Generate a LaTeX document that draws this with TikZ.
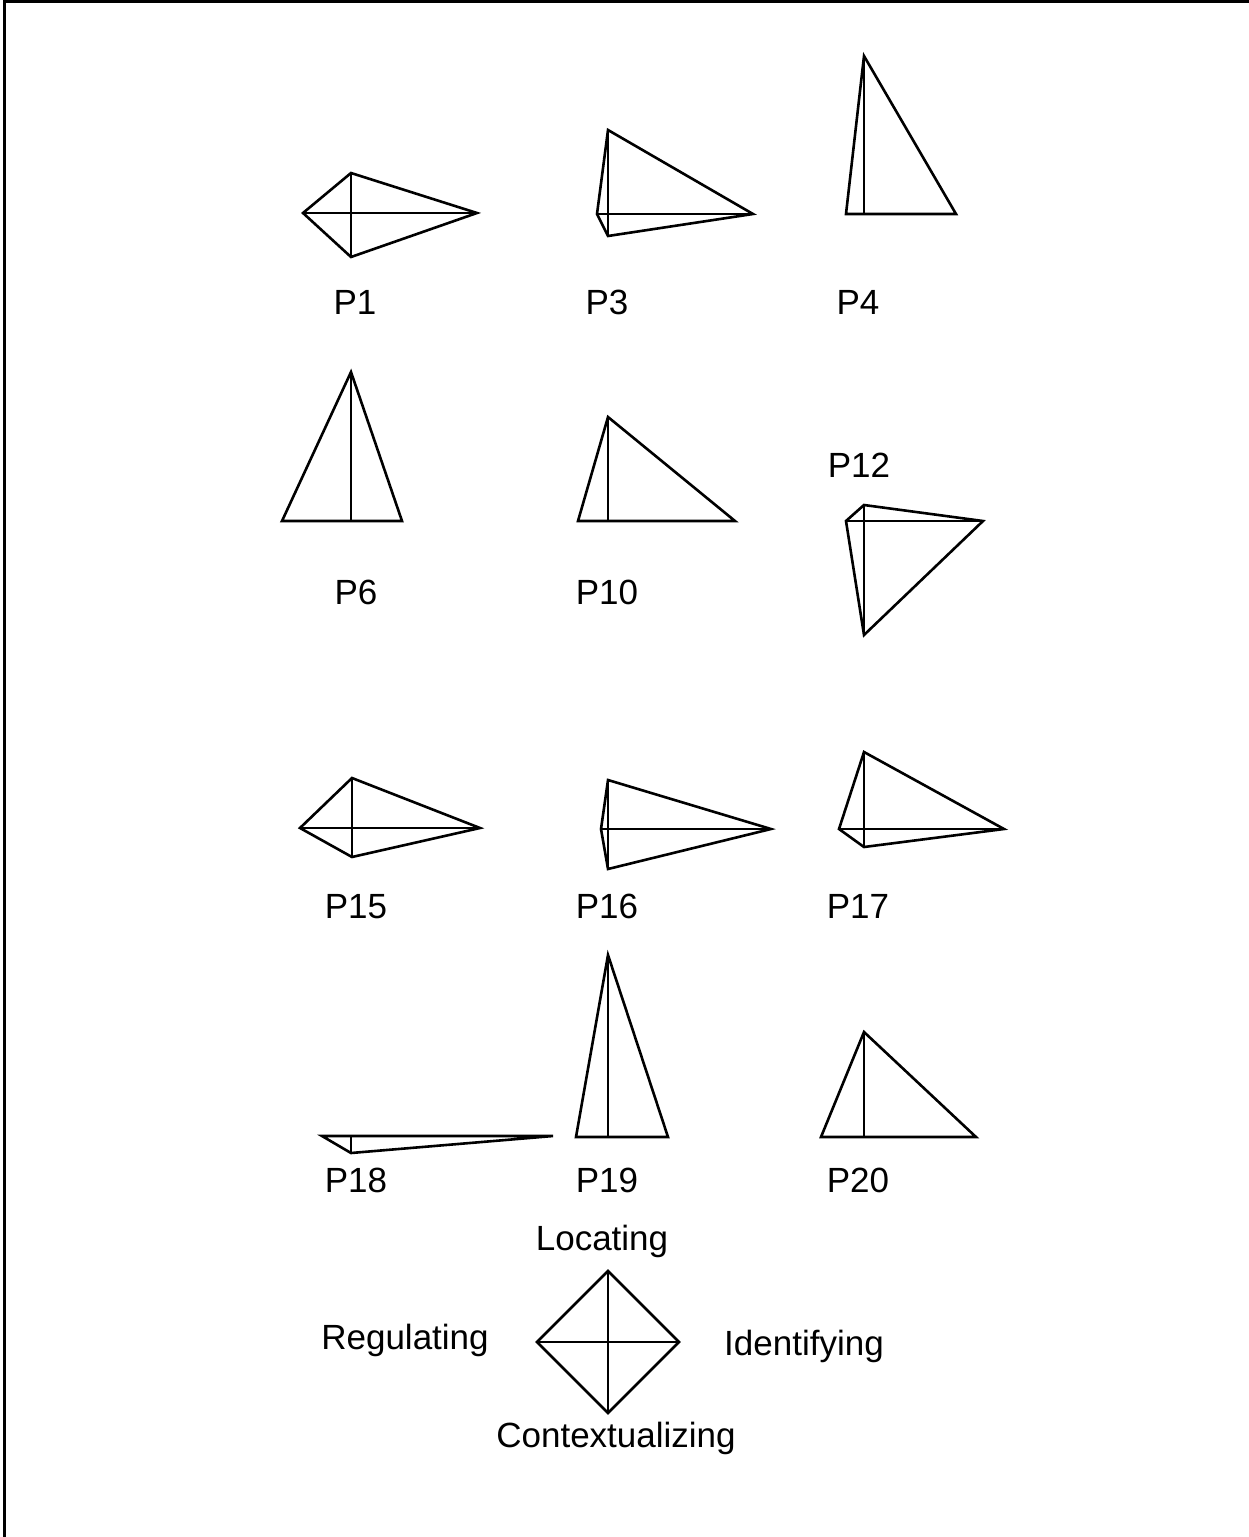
\documentclass[tikz,border=0pt]{standalone}
\usepackage{fontspec}
\setmainfont{Liberation Sans}
\begin{document}
\begin{tikzpicture}[x=1pt,y=-1pt,
  outline/.style={line width=2.6pt,line join=miter},
  axis/.style={line width=2.6pt},
  legendaxis/.style={line width=1.2pt},
  lbl/.style={font=\fontsize{35}{42}\selectfont,anchor=base,inner sep=0pt}]
\useasboundingbox (0,0) rectangle (1249,1537);
% frame (top and left)
\draw[line width=3pt] (3,1.5) -- (1249,1.5);
\draw[line width=3pt] (4.5,0) -- (4.5,1537);
% profile: center (cx,cy), top, right, bottom, left
\newcommand\kiteprofile[6]{%
  \draw[outline] (#1,#2-#3) -- (#1+#4,#2) -- (#1,#2+#5) -- (#1-#6,#2) -- cycle;
  \draw[axis] (#1,#2-#3) -- (#1,#2+#5);
  \draw[axis] (#1-#6,#2) -- (#1+#4,#2);
}
\kiteprofile{351}{213}{40}{126}{44}{48}
\kiteprofile{608}{214}{84}{145}{22}{11}
\kiteprofile{864}{214}{158}{92}{0}{18}
\kiteprofile{351}{521}{149}{51}{0}{69}
\kiteprofile{608}{521}{104}{127}{0}{30}
\kiteprofile{864}{521}{16}{119}{114}{18}
\kiteprofile{352}{828}{50}{128}{29}{52}
\kiteprofile{608}{829}{49}{163}{40}{7}
\kiteprofile{864}{829}{77}{140}{18}{25}
\kiteprofile{351}{1136}{0}{202}{17}{29}
\kiteprofile{608}{1137}{182}{60}{0}{32}
\kiteprofile{864}{1137}{105}{112}{0}{43}
% labels
\node[lbl] (p1) at (355,314) {P1};
\node[lbl] (p3) at (607,314) {P3};
\node[lbl] (p4) at (858,314) {P4};
\node[lbl] (p6) at (356,604) {P6};
\node[lbl] (p10) at (607,604) {P10};
\node[lbl] (p12) at (859,477) {P12};
\node[lbl] (p15) at (356,918) {P15};
\node[lbl] (p16) at (607,918) {P16};
\node[lbl] (p17) at (858,918) {P17};
\node[lbl] (p18) at (356,1192) {P18};
\node[lbl] (p19) at (607,1192) {P19};
\node[lbl] (p20) at (858,1192) {P20};
% legend
\draw[outline] (608,1271) -- (679,1342) -- (608,1413) -- (537,1342) -- cycle;
\draw[legendaxis] (608,1271) -- (608,1413);
\draw[legendaxis] (537,1342) -- (679,1342);
\node[lbl] (loc) at (602,1250) {Locating};
\node[lbl] (reg) at (405,1349) {Regulating};
\node[lbl] (ide) at (804,1355) {Identifying};
\node[lbl] (con) at (616,1447) {Contextualizing};
\end{tikzpicture}
\end{document}
